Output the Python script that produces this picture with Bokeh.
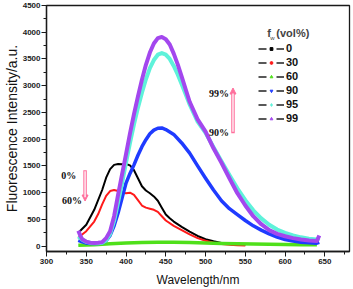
import math
from bokeh.plotting import figure
from bokeh.models import (Legend, LegendItem, Arrow, NormalHead, Label, Range1d,
                          FixedTicker)
from bokeh.embed import file_html
from bokeh.resources import INLINE
from bokeh.core.properties import value

# ---------------- data ----------------
wl_0 = [340, 350, 360, 370, 375, 380, 385, 390, 395, 400, 405, 410, 415, 420, 425, 430,
        435, 440, 445, 450, 455, 460, 470, 480, 490, 500, 510, 520, 530, 540, 550]
fi_0 = [250, 400, 680, 1050, 1280, 1440, 1520, 1535, 1530, 1535, 1510, 1420, 1270, 1120,
        1040, 990, 930, 850, 720, 590, 520, 460, 360, 270, 190, 130, 90, 60, 40, 28, 20]

wl_30 = [340, 350, 360, 365, 370, 375, 380, 385, 390, 395, 400, 405, 410, 415, 420, 425,
         430, 435, 440, 445, 450, 460, 470, 480, 490, 500, 510, 520, 530, 540, 550]
fi_30 = [160, 280, 460, 600, 780, 940, 1030, 1050, 1030, 1000, 990, 1000, 960, 860, 760,
         720, 700, 680, 640, 560, 480, 380, 300, 220, 150, 100, 65, 40, 25, 15, 10]

wl_60 = [340, 360, 380, 400, 420, 440, 460, 480, 500, 520, 540, 560, 580, 600, 620, 640]
fi_60 = [15, 25, 45, 60, 70, 75, 75, 70, 60, 50, 45, 40, 35, 30, 25, 25]

wl_90 = [340, 345, 350, 355, 360, 365, 370, 375, 380, 385, 390, 395, 400, 405, 410, 415,
         420, 425, 430, 435, 440, 445, 450, 460, 470, 480, 490, 500, 510, 520, 530, 540,
         550, 560, 570, 580, 590, 600, 610, 620, 630, 640, 643]
fi_90 = [110, 80, 60, 50, 48, 50, 60, 100, 200, 380, 620, 900, 1180, 1360, 1520, 1700,
         1860, 1990, 2100, 2170, 2205, 2210, 2180, 2090, 1930, 1740, 1500, 1270, 1050, 850,
         700, 590, 480, 380, 300, 230, 170, 125, 95, 75, 62, 55, 70]

wl_95 = [340, 345, 350, 355, 360, 365, 370, 375, 380, 385, 390, 395, 400, 405, 410, 415,
         420, 425, 430, 435, 440, 445, 450, 455, 460, 465, 470, 475, 480, 490, 500, 510,
         520, 530, 540, 550, 560, 570, 580, 590, 600, 610, 620, 630, 640, 643]
fi_95 = [180, 120, 80, 60, 55, 55, 65, 110, 230, 470, 820, 1180, 1560, 1930, 2280, 2590,
         2870, 3120, 3330, 3480, 3580, 3610, 3580, 3500, 3370, 3210, 3030, 2840, 2650, 2330,
         2120, 1850, 1590, 1330, 1080, 860, 670, 520, 400, 310, 250, 200, 165, 140, 125, 150]

wl_99 = [340, 343, 345, 350, 355, 360, 365, 370, 375, 380, 385, 390, 395, 400, 405, 410,
         415, 420, 425, 430, 435, 440, 445, 450, 455, 460, 465, 470, 475, 480, 490, 500,
         510, 520, 530, 540, 550, 560, 570, 580, 590, 600, 610, 620, 630, 640, 643]
fi_99 = [290, 180, 130, 85, 65, 60, 62, 75, 150, 280, 560, 960, 1340, 1720, 2110, 2470,
         2800, 3110, 3390, 3620, 3790, 3890, 3910, 3870, 3770, 3600, 3400, 3170, 2930, 2700,
         2370, 2140, 1830, 1560, 1270, 990, 760, 560, 410, 300, 230, 185, 150, 125, 105, 95, 200]

series_labels = ["0", "30", "60", "90", "95", "99"]
x_ticks = [300, 350, 400, 450, 500, 550, 600, 650]
y_ticks = [0, 500, 1000, 1500, 2000, 2500, 3000, 3500, 4000, 4500]

# ---------------- styles ----------------
colors = ["#000000", "#ff1a1a", "#4fe01a", "#1f3bff", "#5ef2da", "#a347ee"]
widths = [2, 2, 3.5, 3.5, 4, 4]
markers = ["square", "circle", "triangle", "inverted_triangle", "diamond", "triangle"]
angles = [0, 0, 0, 0, 0, math.pi / 2]

p = figure(width=353, height=289, output_backend="svg", toolbar_location=None,
           x_range=Range1d(300, 681), y_range=Range1d(-100, 4500),
           min_border_left=0, min_border_right=4, min_border_top=5, min_border_bottom=0)
p.grid.visible = False
p.outline_line_color = "#1a1a1a"
p.outline_line_width = 1.3
p.background_fill_color = "white"
p.border_fill_color = "white"

for ax in (p.xaxis[0], p.yaxis[0]):
    ax.axis_line_color = "#1a1a1a"
    ax.axis_line_width = 1.3
    ax.major_tick_line_color = "#1a1a1a"
    ax.minor_tick_line_color = "#1a1a1a"
    ax.major_tick_in = 0
    ax.major_tick_out = 5
    ax.minor_tick_in = 0
    ax.minor_tick_out = 3
    ax.major_label_text_font = "Liberation Sans"
    ax.major_label_text_font_size = "8px"
    ax.major_label_text_font_style = "bold"
    ax.major_label_text_color = "#222222"
    ax.axis_label_text_font = "Liberation Sans"
    ax.axis_label_text_font_style = "normal"
    ax.axis_label_text_color = "#111111"

p.xaxis.major_label_standoff = 2
p.yaxis.major_label_standoff = 1
p.xaxis.ticker = FixedTicker(ticks=x_ticks, minor_ticks=[300 + 25 * i for i in range(16)])
p.yaxis.ticker = FixedTicker(ticks=y_ticks, minor_ticks=[250 * i for i in range(19)])
p.xaxis.axis_label = "Wavelength/nm"
p.xaxis.axis_label_text_font_size = "12px"
p.xaxis.axis_label_standoff = 6
p.yaxis.axis_label = "Fluorescence Intensity/a.u."
p.yaxis.axis_label_text_font_size = "14px"
p.yaxis.axis_label_standoff = 0

wls = [wl_0, wl_30, wl_60, wl_90, wl_95, wl_99]
fis = [fi_0, fi_30, fi_60, fi_90, fi_95, fi_99]

items = []
for i in range(6):
    p.line(wls[i], fis[i], line_color=colors[i], line_width=widths[i], line_join="round")
for i in range(6):
    dl = p.line(wls[i], fis[i], line_color="#222222", line_width=1.3, line_dash="8 10")
    dl.visible = False
    ds = p.scatter(wls[i], fis[i], marker=markers[i], angle=angles[i], size=3,
                   fill_color=colors[i], line_color=colors[i])
    ds.visible = False
    items.append(LegendItem(label=series_labels[i], renderers=[dl, ds]))

legend = Legend(items=items, location=(212, 126), background_fill_alpha=0,
                border_line_alpha=0, glyph_width=26, glyph_height=7, label_height=14,
                spacing=0, padding=0, margin=0, label_standoff=2,
                label_text_font="Liberation Sans", label_text_font_size="11px",
                label_text_font_style="bold", label_text_color="#111111")
p.add_layout(legend)

# legend title f_w (vol%)
p.add_layout(Label(x=580, y=3985, text="f", text_font="Liberation Sans", text_font_size="11px",
                   text_font_style="bold", text_baseline="middle", text_align="center"))
p.add_layout(Label(x=584, y=3900, text="w", text_font="Liberation Sans", text_font_size="6px",
                   text_baseline="middle", text_align="center"))
p.add_layout(Label(x=589, y=3985, text="(vol%)", text_font="Liberation Sans", text_font_size="11px",
                   text_font_style="bold", text_baseline="middle", text_align="left"))

# arrows
pink = "#ff6f9c"
for (xs, y0, y1) in [(348.5, 1420, 844), (534.5, 2113, 2957)]:
    p.add_layout(Arrow(x_start=xs, y_start=y0, x_end=xs, y_end=y1, line_color=pink, line_width=3.5,
                       end=NormalHead(size=6, fill_color=pink, line_color=pink)))
    mid0 = y0 + (y1 - y0) * 0.03
    mid1 = y1 - (y1 - y0) * 0.12
    p.add_layout(Arrow(x_start=xs, y_start=mid0, x_end=xs, y_end=mid1, line_color="white",
                       line_width=1.3, end=None))

for (tx, ty, t) in [(328, 1326, "0%"), (332, 857, "60%"), (517, 2863, "99%"), (517, 2132, "90%")]:
    p.add_layout(Label(x=tx, y=ty, text=t, text_font="Liberation Serif", text_font_size="10px",
                       text_font_style="bold", text_align="center", text_baseline="middle",
                       text_color="#111111"))

open("out.html", "w").write(file_html(p, INLINE))
